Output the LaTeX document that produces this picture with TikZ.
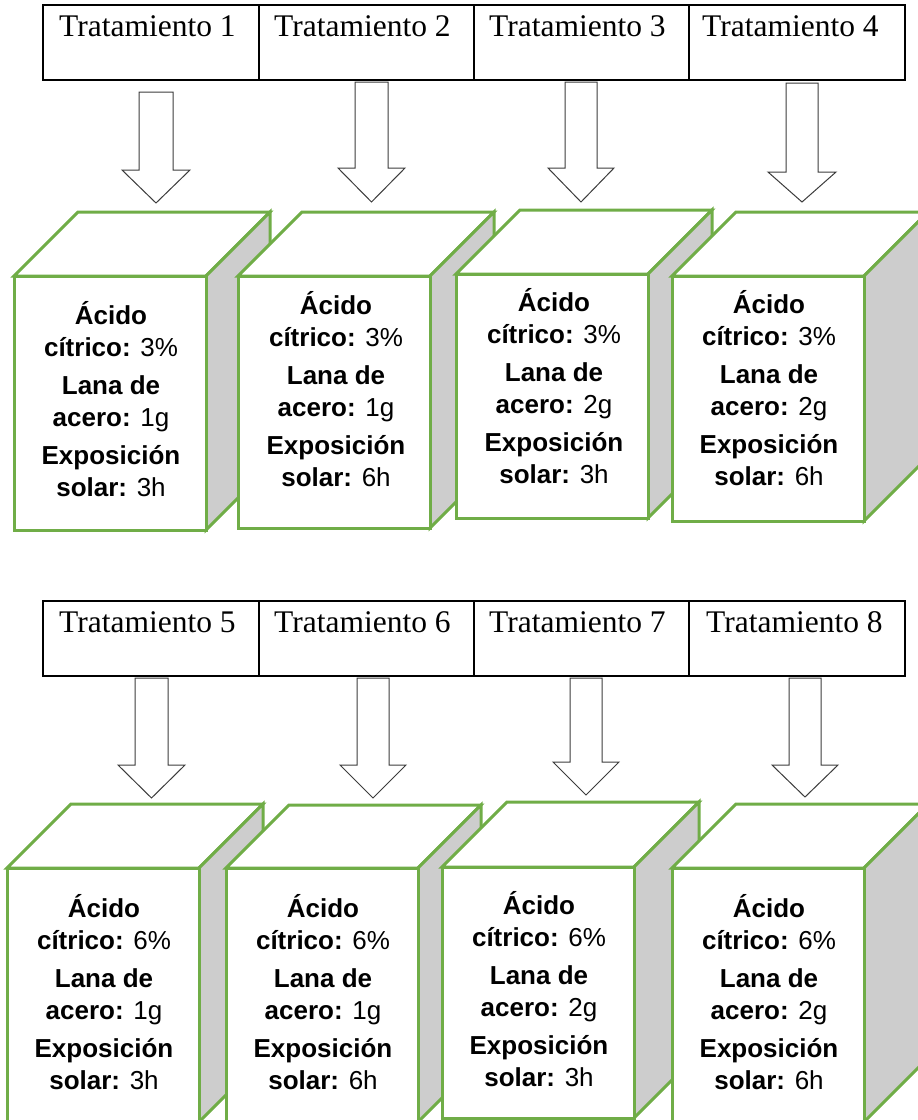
\documentclass[tikz,border=0pt]{standalone}
\usepackage{fontspec}
\setmainfont{Liberation Serif}
\newfontfamily\arialf{Liberation Sans}
\definecolor{boxgreen}{RGB}{112,173,71}
\definecolor{sidegray}{RGB}{205,205,205}
\definecolor{arrowgray}{RGB}{60,60,60}
\newcommand\drawcube[6]{%
  % #1 name, #2 xl, #3 xr, #4 yt, #5 yb, #6 depth
  \draw[cubeline, fill=white] (#2,#4) -- ({#2+#6},{#4-#6}) -- ({#3+#6},{#4-#6}) -- (#3,#4) -- cycle;
  \draw[cubeline, fill=sidegray] (#3,#4) -- ({#3+#6},{#4-#6}) -- ({#3+#6},{#5-#6}) -- (#3,#5) -- cycle;
  \node[cubefront, minimum width={#3-#2}, minimum height={#5-#4}] (#1) at ({(#2+#3)/2},{(#4+#5)/2}) {};
}
\newcommand\blockarrow[9]{%
  % #1 name, #2 shaft left, #3 shaft right, #4 top, #5 head base, #6 head left, #7 head right, #8 tip y, #9 tip x
  \draw[blockarrowline] (#2,#4) -- (#2,#5) -- (#6,#5) -- (#9,#8) -- (#7,#5) -- (#3,#5) -- (#3,#4) -- cycle;
  \coordinate (#1) at (#9,#8);
}
\begin{document}
\begin{tikzpicture}[x=1pt,y=-1pt,
  cell/.style={draw=black, line width=2.5pt, rectangle, inner sep=0pt, outer sep=0pt, minimum height=75},
  ttext/.style={anchor=base west, inner sep=0pt, font=\fontsize{31.5}{36}\selectfont},
  cubeline/.style={draw=boxgreen, line width=3pt, line join=miter},
  cubefront/.style={draw=boxgreen, line width=3pt, fill=white, rectangle, inner sep=0pt, outer sep=0pt},
  btext/.style={align=center, inner sep=0pt, font=\arialf\fontsize{26}{31.5}\selectfont},
  blockarrowline/.style={draw=arrowgray, line width=1pt, fill=white, line join=miter}
]
\useasboundingbox (0,0) rectangle (918,1120);
\clip (0,0) rectangle (918,1120);

% ---------- Row 1 header ----------
\node[cell, minimum width=216] (c1) at (151,42.5) {};
\node[cell, minimum width=215] (c2) at (366.5,42.5) {};
\node[cell, minimum width=215] (c3) at (581.5,42.5) {};
\node[cell, minimum width=216] (c4) at (797,42.5) {};
\node[ttext] (t1) at (59,36) {Tratamiento 1};
\node[ttext] (t2) at (274,36) {Tratamiento 2};
\node[ttext] (t3) at (489,36) {Tratamiento 3};
\node[ttext] (t4) at (702,36) {Tratamiento 4};

% ---------- Row 1 arrows ----------
\blockarrow{a1}{139}{173}{92}{170}{122}{190}{203}{156}
\blockarrow{a2}{355}{388}{82}{168}{338}{405}{202}{371.5}
\blockarrow{a3}{565}{597}{82}{168}{548}{614}{202}{581}
\blockarrow{a4}{786}{818}{83}{172}{768}{836}{202}{802}

% ---------- Row 1 cubes ----------
\drawcube{b1}{14}{206}{276}{530}{64}
\node[btext] (x1) at (111,399) {\textbf{Ácido}\\\textbf{cítrico:} 3\%\\[7pt]\textbf{Lana de}\\\textbf{acero:} 1g\\[7pt]\textbf{Exposición}\\\textbf{solar:} 3h};
\drawcube{b2}{238}{430}{276}{528}{64}
\node[btext] (x2) at (336,389) {\textbf{Ácido}\\\textbf{cítrico:} 3\%\\[7pt]\textbf{Lana de}\\\textbf{acero:} 1g\\[7pt]\textbf{Exposición}\\\textbf{solar:} 6h};
\drawcube{b3}{456}{648}{274}{518}{64}
\node[btext] (x3) at (554,386) {\textbf{Ácido}\\\textbf{cítrico:} 3\%\\[7pt]\textbf{Lana de}\\\textbf{acero:} 2g\\[7pt]\textbf{Exposición}\\\textbf{solar:} 3h};
\drawcube{b4}{672}{864}{276}{521}{64}
\node[btext] (x4) at (769,388) {\textbf{Ácido}\\\textbf{cítrico:} 3\%\\[7pt]\textbf{Lana de}\\\textbf{acero:} 2g\\[7pt]\textbf{Exposición}\\\textbf{solar:} 6h};

% ---------- Row 2 header ----------
\node[cell, minimum width=216] (c5) at (151,638.5) {};
\node[cell, minimum width=215] (c6) at (366.5,638.5) {};
\node[cell, minimum width=215] (c7) at (581.5,638.5) {};
\node[cell, minimum width=216] (c8) at (797,638.5) {};
\node[ttext] (t5) at (59,632) {Tratamiento 5};
\node[ttext] (t6) at (274,632) {Tratamiento 6};
\node[ttext] (t7) at (489,632) {Tratamiento 7};
\node[ttext] (t8) at (706,632) {Tratamiento 8};

% ---------- Row 2 arrows ----------
\blockarrow{a5}{135}{168}{678}{765}{118}{185}{798}{151.5}
\blockarrow{a6}{357}{389}{678}{765}{340}{406}{798}{373}
\blockarrow{a7}{570}{602}{678}{762}{553}{619}{795}{586}
\blockarrow{a8}{789}{821}{678}{765}{772}{838}{797}{805}

% ---------- Row 2 cubes ----------
\drawcube{b5}{7}{199}{868}{1122}{64}
\node[btext] (x5) at (104,992) {\textbf{Ácido}\\\textbf{cítrico:} 6\%\\[7pt]\textbf{Lana de}\\\textbf{acero:} 1g\\[7pt]\textbf{Exposición}\\\textbf{solar:} 3h};
\drawcube{b6}{226}{418}{868}{1122}{63}
\node[btext] (x6) at (323,992) {\textbf{Ácido}\\\textbf{cítrico:} 6\%\\[7pt]\textbf{Lana de}\\\textbf{acero:} 1g\\[7pt]\textbf{Exposición}\\\textbf{solar:} 6h};
\drawcube{b7}{442}{634}{867}{1118}{65}
\node[btext] (x7) at (539,989) {\textbf{Ácido}\\\textbf{cítrico:} 6\%\\[7pt]\textbf{Lana de}\\\textbf{acero:} 2g\\[7pt]\textbf{Exposición}\\\textbf{solar:} 3h};
\drawcube{b8}{672}{864}{868}{1122}{64}
\node[btext] (x8) at (769,992) {\textbf{Ácido}\\\textbf{cítrico:} 6\%\\[7pt]\textbf{Lana de}\\\textbf{acero:} 2g\\[7pt]\textbf{Exposición}\\\textbf{solar:} 6h};
\end{tikzpicture}
\end{document}
